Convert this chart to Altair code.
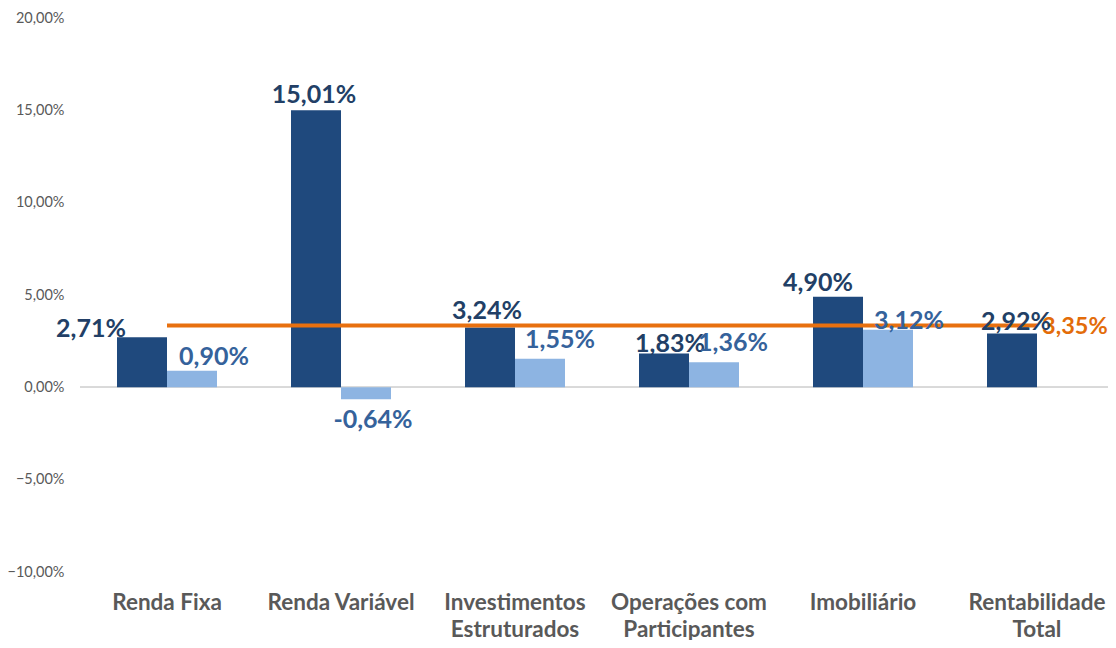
import altair as alt
import pandas as pd

categorias = ["Renda Fixa", "Renda Variável", "Investimentos|Estruturados",
              "Operações com|Participantes", "Imobiliário", "Rentabilidade|Total"]
no_ano = [2.71, 15.01, 3.24, 1.83, 4.90, 2.92]
no_mes = [0.90, -0.64, 1.55, 1.36, 3.12, None]
meta_atuarial = 3.35
series = ["No Ano", "No Mês", "Meta Atuarial"]
y_ticks = [-10, -5, 0, 5, 10, 15, 20]

DARK = "#1F497D"
LIGHT = "#8DB4E2"
ORANGE = "#E8700F"
DARK_TXT = "#223F66"
LIGHT_TXT = "#35629B"
ORANGE_TXT = "#E36C09"
GRAY = "#595959"
FONT = "Lato"


def fmt(v):
    return f"{v:.2f}".replace(".", ",") + "%"


rows = []
for c, a, m in zip(categorias, no_ano, no_mes):
    rows.append({"cat": c, "serie": "No Ano", "valor": a, "rotulo": fmt(a)})
    if m is not None:
        rows.append({"cat": c, "serie": "No Mês", "valor": m, "rotulo": fmt(m)})
bars_df = pd.DataFrame(rows)
meta_df = pd.DataFrame({"cat": categorias, "valor": [meta_atuarial] * len(categorias)})

x_scale = alt.Scale(domain=categorias, paddingInner=0.4253, paddingOuter=0.16667, align=0.638)
x_enc = alt.X("cat:N", sort=categorias, scale=x_scale, title=None,
              axis=alt.Axis(labelExpr="split(datum.label, '|')", labelAngle=0,
                            labelFont=FONT, labelFontSize=22.5, labelFontWeight="bold",
                            labelColor=GRAY, labelLineHeight=27, labelPadding=19,
                            ticks=False, tickSize=0, domain=False, labelBaseline="top"))
y_scale = alt.Scale(domain=[-10, 20], nice=False, zero=False)
y_enc = alt.Y("valor:Q", scale=y_scale, title=None,
              axis=alt.Axis(values=y_ticks, grid=False, domain=False, ticks=False, tickSize=0,
                            labelExpr="replace(format(datum.value/100, '.2%'), '.', ',')",
                            labelFont=FONT, labelFontSize=14.5, labelColor=GRAY, labelPadding=16))
off_scale = alt.Scale(domain=["No Ano", "No Mês"], paddingInner=0, paddingOuter=0)
color_scale = alt.Scale(domain=series, range=[DARK, LIGHT, ORANGE])

base = alt.Chart(bars_df)

bars = base.mark_bar().encode(
    x=x_enc,
    xOffset=alt.XOffset("serie:N", scale=off_scale),
    y=y_enc,
    y2=alt.datum(0),
    color=alt.Color("serie:N", scale=color_scale, title=None,
                    legend=alt.Legend(orient="none", direction="horizontal", legendX=282,
                                      legendY=-36, symbolType="square", symbolSize=500,
                                      labelFont=FONT, labelFontSize=19, labelColor=GRAY,
                                      columnPadding=40, values=series)),
)

zero_line = alt.Chart(meta_df).mark_rule(color="#D9D9D9", strokeWidth=1.5).encode(
    y=alt.datum(0), x=alt.value(0), x2=alt.value(1028)
)

meta_line = alt.Chart(meta_df).mark_line(color=ORANGE, strokeWidth=4).encode(
    x=alt.X("cat:N", sort=categorias, scale=x_scale),
    y=alt.Y("valor:Q", scale=y_scale),
)

meta_label = alt.Chart(meta_df.tail(1).assign(rotulo=fmt(meta_atuarial))).mark_text(
    align="left", baseline="middle", dx=5, dy=2, font=FONT, fontSize=23.5,
    fontWeight="bold", color=ORANGE_TXT
).encode(
    x=alt.X("cat:N", sort=categorias, scale=x_scale),
    y=alt.Y("valor:Q", scale=y_scale),
    text="rotulo:N",
)

# label offsets (dx, dy) in pixels relative to bar end, style only
label_offsets = {
    ("Renda Fixa", "No Ano"): (-51, -8),
    ("Renda Fixa", "No Mês"): (22, -14),
    ("Renda Variável", "No Ano"): (-2, -15),
    ("Renda Variável", "No Mês"): (7, 21),
    ("Investimentos|Estruturados", "No Ano"): (-3, -17),
    ("Investimentos|Estruturados", "No Mês"): (20, -19),
    ("Operações com|Participantes", "No Ano"): (6, -10),
    ("Operações com|Participantes", "No Mês"): (19, -19),
    ("Imobiliário", "No Ano"): (-20, -14),
    ("Imobiliário", "No Mês"): (21, -9),
    ("Rentabilidade|Total", "No Ano"): (4, -11),
}

labels = []
for _, r in bars_df.iterrows():
    dx, dy = label_offsets[(r["cat"], r["serie"])]
    labels.append(
        alt.Chart(bars_df[(bars_df.cat == r["cat"]) & (bars_df.serie == r["serie"])]).mark_text(
            align="center", baseline="middle", dx=dx, dy=dy, font=FONT, fontSize=25,
            fontWeight="bold", color=DARK_TXT if r["serie"] == "No Ano" else LIGHT_TXT
        ).encode(
            x=alt.X("cat:N", sort=categorias, scale=x_scale),
            xOffset=alt.XOffset("serie:N", scale=off_scale),
            y=alt.Y("valor:Q", scale=y_scale),
            text="rotulo:N",
        )
    )

chart = alt.layer(zero_line, bars, meta_line, meta_label, *labels).properties(
    width=1028, height=554,
    autosize=alt.AutoSizeParams(type="none"),
    padding={"left": 72, "top": 10, "right": 0, "bottom": 68},
).configure_view(stroke=None)

chart.save("out.html", embed_options={"renderer": "svg", "actions": False})
